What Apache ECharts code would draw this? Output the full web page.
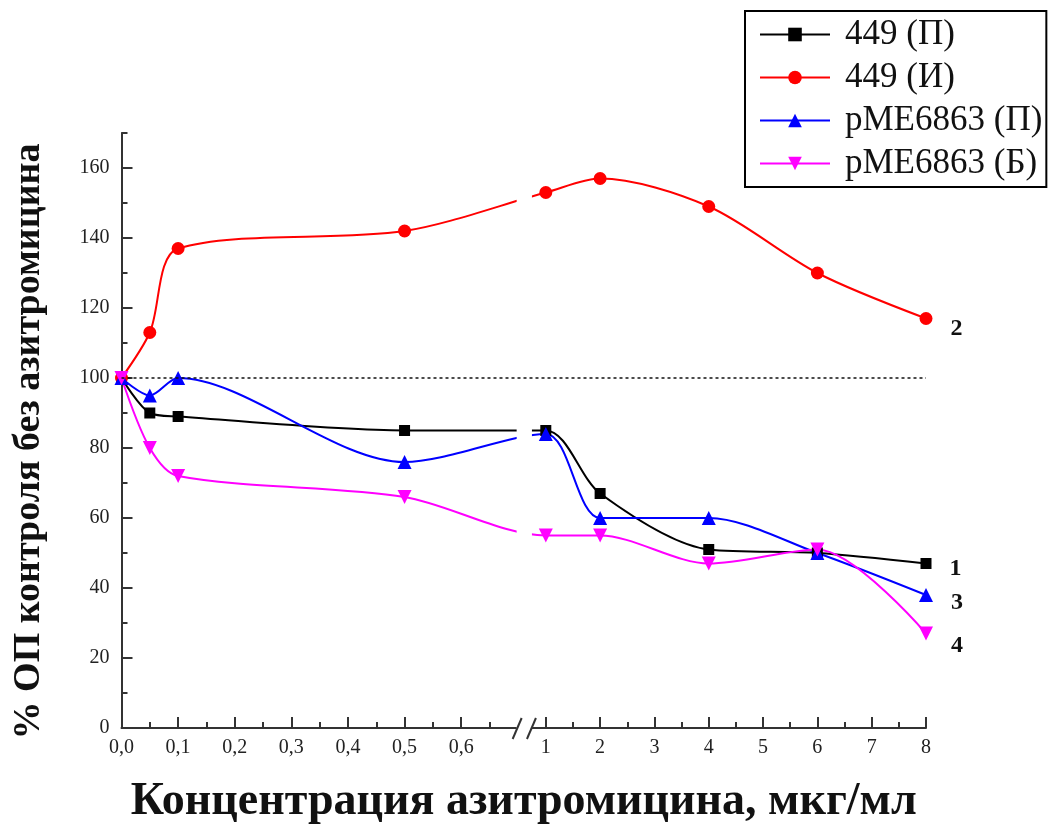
<!DOCTYPE html>
<html>
<head>
<meta charset="utf-8">
<script src="https://cdn.jsdelivr.net/npm/echarts@6/dist/echarts.min.js"></script>
<style>
html,body{margin:0;padding:0;background:#fff;}
#chart{width:1052px;height:825px;}
</style>
</head>
<body>
<div id="chart"></div>
<script>
// ---- data ----
const concentrations = [0, 0.05, 0.1, 0.5, 1, 2, 4, 6, 8];
const s449P   = [100, 90, 89, 85, 85, 67, 51, 50, 47];
const s449I   = [100, 113, 137, 142, 153, 157, 149, 130, 117];
const sPME_P  = [100, 95, 100, 76, 84, 60, 60, 50, 38];
const sPME_B  = [100, 80, 72, 66, 55, 55, 47, 51, 27];
const seriesNames = ['449 (П)', '449 (И)', 'pME6863 (П)', 'pME6863 (Б)'];
const curveNumbers = ['1', '2', '3', '4'];

const xLeftTicks = [0, 0.1, 0.2, 0.3, 0.4, 0.5, 0.6];
const xLeftTickLabels = ['0,0', '0,1', '0,2', '0,3', '0,4', '0,5', '0,6'];
const xRightTicks = [1, 2, 3, 4, 5, 6, 7, 8];
const xRightTickLabels = ['1', '2', '3', '4', '5', '6', '7', '8'];
const xLeftMinor = [0.05, 0.15, 0.25, 0.35, 0.45, 0.55, 0.65];
const xRightMinor = [1.5, 2.5, 3.5, 4.5, 5.5, 6.5, 7.5];
const yTicks = [0, 20, 40, 60, 80, 100, 120, 140, 160];
const yMinor = [10, 30, 50, 70, 90, 110, 130, 150, 170];
const referenceLevel = 100;

// ---- broken axis scale: left segment 0..0.7 linear, right segment 1..8 compressed ----
const RIGHT_START = 0.7495;   // axis unit where concentration 1 sits
const RIGHT_SCALE = 0.09594;  // axis units per concentration unit on the right
function toAxis(x) { return x < 0.85 ? x : RIGHT_START + (x - 1) * RIGHT_SCALE; }
const AX_MAX = toAxis(8);
const BREAK_FROM = 0.698, BREAK_TO = 0.725;

const labelMap = {};
xLeftTicks.forEach((v, i) => labelMap[toAxis(v).toFixed(4)] = xLeftTickLabels[i]);
xRightTicks.forEach((v, i) => labelMap[toAxis(v).toFixed(4)] = xRightTickLabels[i]);
const majorU = xLeftTicks.concat(xRightTicks).map(toAxis);
const minorU = xLeftMinor.concat(xRightMinor).map(toAxis);

const FONT = 'Liberation Serif';
const colors = ['#000000', '#ff0000', '#0000ff', '#ff00ff'];
const symbols = ['rect', 'circle', 'triangle', 'triangle'];
const symbolSizes = [11, 13, 14, 14];
const rotations = [0, 0, 0, 180];
const labelOffsets = [[0, 5], [0, 10], [0, 8], [0, 12]];
const allData = [s449P, s449I, sPME_P, sPME_B];

const chart = echarts.init(document.getElementById('chart'));

const series = allData.map((vals, k) => ({
  name: seriesNames[k],
  type: 'line',
  smooth: 0.3,
  symbol: symbols[k],
  symbolSize: symbolSizes[k],
  symbolRotate: rotations[k],
  showAllSymbol: true,
  color: colors[k],
  lineStyle: { width: 2, color: colors[k] },
  itemStyle: { color: colors[k] },
  z: 2,
  data: concentrations.map((c, i) => {
    const item = { value: [toAxis(c), vals[i]] };
    if (i === concentrations.length - 1) {
      item.label = {
        show: true, position: 'right', distance: 18, offset: labelOffsets[k],
        formatter: curveNumbers[k],
        fontFamily: FONT, fontWeight: 'bold', fontSize: 24, color: '#111'
      };
    }
    return item;
  })
}));

series.push({
  type: 'line', data: [], z: 10, silent: true,
  markLine: {
    silent: true, symbol: 'none', label: { show: false },
    lineStyle: { color: '#111', width: 1.6, type: [3, 3] },
    data: [{ yAxis: referenceLevel }]
  }
});

const axisCol = '#333';
const option = {
  backgroundColor: '#fff',
  animation: false,
  grid: { left: 121.5, right: 126, top: 133, bottom: 97, outerBoundsMode: 'none', containLabel: false },
  legend: {
    orient: 'vertical', left: 745, top: 11,
    data: seriesNames,
    itemWidth: 70, itemHeight: 17, itemGap: 8,
    padding: [6, 4, 6, 14],
    borderColor: '#000', borderWidth: 2, backgroundColor: '#fff',
    textStyle: { fontFamily: FONT, fontSize: 35, color: '#111', lineHeight: 35, padding: [0, 0, 0, 10] }
  },
  xAxis: [{
    type: 'value', min: 0, max: AX_MAX, position: 'bottom',
    axisLine: { show: true, lineStyle: { color: axisCol, width: 2 } },
    axisTick: { show: true, inside: true, length: 11, customValues: majorU, lineStyle: { color: axisCol, width: 2 } },
    axisLabel: {
      show: true, customValues: majorU, margin: 10,
      fontFamily: FONT, fontSize: 20, color: '#222',
      formatter: v => labelMap[Number(v).toFixed(4)] || ''
    },
    splitLine: { show: false },
    name: 'Концентрация азитромицина, мкг/мл',
    nameLocation: 'middle', nameGap: 51,
    nameTextStyle: { fontFamily: FONT, fontWeight: 'bold', fontSize: 46, color: '#111' }
  }, {
    type: 'value', min: 0, max: AX_MAX, position: 'bottom',
    axisLine: { show: false },
    axisTick: { show: true, inside: true, length: 6, customValues: minorU, lineStyle: { color: axisCol, width: 2 } },
    axisLabel: { show: false },
    splitLine: { show: false }
  }],
  yAxis: [{
    type: 'value', min: 0, max: 170, position: 'left',
    axisLine: { show: true, lineStyle: { color: axisCol, width: 2 } },
    axisTick: { show: true, inside: true, length: 11, customValues: yTicks, lineStyle: { color: axisCol, width: 2 } },
    axisLabel: { show: true, customValues: yTicks, margin: 12, fontFamily: FONT, fontSize: 20, color: '#222' },
    splitLine: { show: false },
    name: '% ОП контроля без азитромицина',
    nameLocation: 'middle', nameGap: 73, nameRotate: 90,
    nameTextStyle: { fontFamily: FONT, fontWeight: 'bold', fontSize: 38, color: '#111', padding: [0, 22, 0, 0] }
  }, {
    type: 'value', min: 0, max: 170, position: 'left',
    axisLine: { show: false },
    axisTick: { show: true, inside: true, length: 6, customValues: yMinor, lineStyle: { color: axisCol, width: 2 } },
    axisLabel: { show: false },
    splitLine: { show: false }
  }],
  series: series
};
chart.setOption(option);

// break in the axis and curves (leave the reference line visible)
const toPx = (u, y) => chart.convertToPixel({ xAxisIndex: 0, yAxisIndex: 0 }, [u, y]);
const pTop = toPx(BREAK_FROM, 170);
const pRefHi = toPx(BREAK_FROM, referenceLevel + 1.2);
const pRefLo = toPx(BREAK_FROM, referenceLevel - 1.2);
const pBot = toPx(BREAK_TO, 0);
const axisY = pBot[1];
const w = pBot[0] - pTop[0];
chart.setOption({
  graphic: [
    { type: 'rect', z: 5, shape: { x: pTop[0], y: pTop[1], width: w, height: pRefHi[1] - pTop[1] }, style: { fill: '#fff' } },
    { type: 'rect', z: 5, shape: { x: pTop[0], y: pRefLo[1], width: w, height: axisY - pRefLo[1] + 3 }, style: { fill: '#fff' } },
    { type: 'line', z: 6, shape: { x1: pTop[0] - 4, y1: axisY + 11, x2: pTop[0] + 5, y2: axisY - 10 }, style: { stroke: '#333', lineWidth: 2 } },
    { type: 'line', z: 6, shape: { x1: pBot[0] - 5, y1: axisY + 11, x2: pBot[0] + 4, y2: axisY - 10 }, style: { stroke: '#333', lineWidth: 2 } }
  ]
});
</script>
</body>
</html>
